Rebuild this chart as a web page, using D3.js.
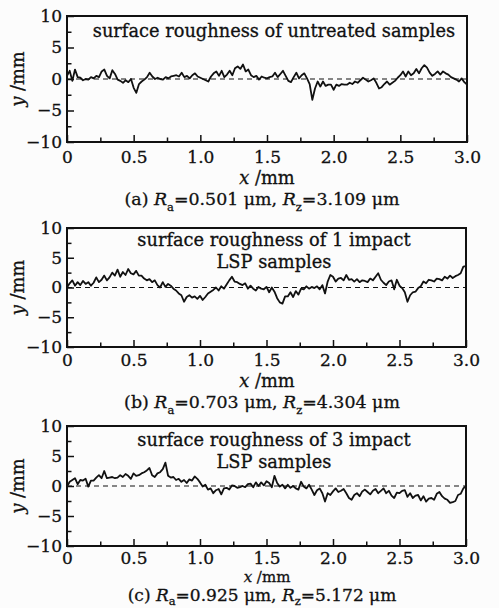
<!DOCTYPE html>
<html>
<head>
<meta charset="utf-8">
<script src="https://cdn.jsdelivr.net/npm/d3@7"></script>
<style>
  html, body { margin: 0; padding: 0; background: #fcfcfc; }
  svg { display: block; }
  text { font-family: "DejaVu Serif", serif; fill: #111; stroke: #111; stroke-width: 0.3px; }
</style>
</head>
<body>
<svg id="chart" width="499" height="608"></svg>
<script>
// ---- data ----
const xStart = 0, xStep = 0.02;   // sampling of the profiles, mm
const xTicks = [0, 0.5, 1.0, 1.5, 2.0, 2.5, 3.0];
const xTickLabels = ["0", "0.5", "1.0", "1.5", "2.0", "2.5", "3.0"];
const xMinorTicks = [0.25, 0.75, 1.25, 1.75, 2.25, 2.75];
const yTicks = [-10, -5, 0, 5, 10];
const yTickLabels = ["\u221210", "\u22125", "0", "5", "10"];
const yMinorTicks = [-7.5, -2.5, 2.5, 7.5];

const roughA = [
  0.5,1.3,-0.3,1.5,0.3,0.2,-0.2,0.0,-0.1,0.3,
  0.1,0.5,0.3,1.2,1.5,0.5,0.1,1.4,0.8,-0.1,
  -0.3,-0.6,-0.2,-0.5,0.0,-1.4,-2.2,-0.8,-0.4,-0.1,
  0.3,1.0,0.4,0.0,0.2,0.0,-0.1,0.3,0.1,0.4,
  0.5,0.6,0.4,1.0,0.3,0.5,0.1,0.6,0.9,0.4,
  0.2,0.0,-0.2,-0.4,0.4,0.9,1.2,0.5,1.3,0.3,
  0.7,1.3,0.6,1.7,2.0,1.6,2.3,1.2,1.5,0.6,
  0.3,0.5,-0.1,0.4,
  0.2,0.1,0.3,0.4,1.0,0.3,
  0.8,1.3,0.5,-0.3,-0.5,0.3,1.0,0.1,0.6,0.9,
  0.1,-0.8,-3.3,-1.5,-0.4,-1.2,-0.4,-1.1,-0.9,-0.9,
  -1.7,-0.9,-1.1,-0.8,-0.9,-0.9,-0.6,-0.8,-0.4,-0.6,
  -0.2,0.2,-0.1,-0.4,-0.2,0.1,-0.6,-1.5,-1.3,-0.8,
  -0.4,-0.9,-0.6,-0.3,0.2,0.6,1.2,0.4,1.2,0.6,
  0.9,1.6,0.9,1.7,2.2,1.8,1.0,0.5,0.8,1.2,
  0.7,1.2,0.9,0.7,0.3,0.1,-0.1,-0.4,0.1,-0.5,
  -0.9
];
const roughB = [
  0.0,0.7,1.2,0.3,0.9,0.4,1.1,0.6,0.9,0.3,
  0.8,1.7,0.9,1.3,2.0,1.2,1.7,2.5,2.0,3.0,
  1.8,2.6,2.1,3.1,2.4,2.2,2.8,2.0,2.0,1.5,
  1.2,1.4,0.9,1.2,0.4,0.0,0.9,0.1,0.6,0.3,
  -0.2,-0.5,-1.0,-1.3,-2.4,-1.6,-1.3,-1.7,-1.5,-1.9,
  -1.4,-2.1,-1.6,-1.0,-0.7,-0.4,0.0,-0.5,0.2,-0.2,
  0.5,1.2,1.8,1.0,0.9,0.6,0.4,0.7,-0.2,0.3,
  -0.2,-0.5,0.1,-0.2,
  -0.3,0.1,-0.8,0.0,-0.7,-1.8,
  -2.5,-2.7,-1.5,-1.5,-0.8,-1.6,-0.6,-1.2,-0.2,-0.3,
  0.2,-0.2,0.1,-0.1,0.2,-0.3,0.4,-1.0,1.0,2.1,
  1.8,1.0,1.5,1.6,1.2,2.1,1.3,1.4,1.0,1.4,
  0.9,1.2,1.1,0.9,1.5,1.2,1.8,2.4,1.3,0.8,
  0.4,1.0,1.2,-0.3,1.3,0.3,-0.1,-0.8,-2.4,-1.3,
  -0.8,-0.7,-0.1,0.2,1.0,0.7,1.3,1.2,1.0,1.5,
  1.4,1.2,1.8,1.5,2.0,1.6,1.9,2.1,2.4,3.5,
  3.6
];
const roughC = [
  -0.1,0.7,1.0,1.3,0.3,1.0,0.9,1.2,-0.1,0.9,
  0.9,1.4,1.8,1.3,2.5,1.3,1.4,1.5,1.3,1.4,
  1.8,1.5,2.0,1.7,1.2,2.1,1.7,1.8,2.1,2.3,
  2.6,3.0,1.8,1.5,2.1,2.3,2.8,3.9,1.7,1.4,
  1.5,1.0,1.2,0.7,1.0,0.5,1.1,0.9,1.6,1.2,
  0.6,-0.1,0.2,-0.6,-0.4,-1.2,-0.7,-0.5,-1.4,-0.4,
  -0.3,-0.6,0.1,0.0,-0.3,-0.2,0.0,-0.2,0.3,0.4,
  -0.2,0.6,0.0,0.6,
  0.1,0.8,0.5,-0.2,1.7,0.5,
  -0.1,0.2,-0.4,0.2,-0.3,0.0,-0.4,-0.6,0.7,-0.1,
  -0.4,0.2,-0.6,-1.5,-0.7,-0.4,-1.2,-2.6,-1.2,-1.5,
  -0.9,-0.4,-1.0,-0.8,-0.5,-1.2,-2.0,-2.3,-1.5,-1.2,
  -1.7,-0.9,-0.6,-1.0,-1.4,-0.8,-0.5,-1.2,-0.8,-0.4,
  -1.2,-0.8,-1.6,-2.0,-1.1,-1.2,-0.8,-0.7,-1.8,-1.2,
  -2.0,-1.6,-1.5,-2.4,-1.7,-2.6,-2.1,-2.0,-2.3,-1.3,
  -1.0,-1.7,-2.1,-2.3,-2.8,-2.7,-2.5,-1.5,-1.3,-0.4,
  0.0
];

const titles = [
  ["surface roughness of untreated samples"],
  ["surface roughness of 1 impact", "LSP samples"],
  ["surface roughness of 3 impact", "LSP samples"]
];
const captionTags = ["(a)", "(b)", "(c)"];
const raValues = ["0.501", "0.703", "0.925"];
const rzValues = ["3.109", "4.304", "5.172"];
const seriesList = [roughA, roughB, roughC];

// ---- layout ----
const panels = [
  { left: 67, right: 467, top: 16, bottom: 142, titleY: [37], tickY: 163, xlabY: 184, capY: 205, sub: 6, xlFs: "17.8px", capFs: "17.4px" },
  { left: 67, right: 466, top: 228, bottom: 347, titleY: [246, 268], tickY: 366, xlabY: 387, capY: 408, sub: 6, xlFs: "17.8px", capFs: "17.4px" },
  { left: 67, right: 466, top: 426, bottom: 546, titleY: [446, 468], tickY: 564, xlabY: 582, capY: 601, sub: 4, xlFs: "15px", capFs: "17px" }
];
const tickFs = "17px", textFs = "17.8px";

const svg = d3.select("#chart");

panels.forEach((p, i) => {
  const data = seriesList[i].map((v, k) => ({ x: xStart + k * xStep, y: v }));
  const x = d3.scaleLinear().domain([0, 3]).range([p.left, p.right]);
  const y = d3.scaleLinear().domain([-10, 10]).range([p.bottom, p.top]);
  const g = svg.append("g");

  // dashed zero line
  g.append("line")
    .attr("x1", x(0)).attr("x2", x(3))
    .attr("y1", y(0)).attr("y2", y(0))
    .attr("stroke", "#111").attr("stroke-width", 1.1)
    .attr("stroke-dasharray", "5,4");

  // profile
  const line = d3.line().x(d => x(d.x)).y(d => y(d.y));
  g.append("path").datum(data)
    .attr("d", line)
    .attr("fill", "none").attr("stroke", "#111")
    .attr("stroke-width", 1.8).attr("stroke-linejoin", "round");

  // axes (inward ticks)
  const xAxis = d3.axisBottom(x).tickValues(xTicks)
    .tickFormat((d, k) => xTickLabels[k]).tickSize(-7).tickPadding(0);
  const gx = g.append("g").attr("transform", `translate(0,${p.bottom})`).call(xAxis);
  gx.select(".domain").remove();
  gx.selectAll(".tick line").attr("stroke", "#111").attr("stroke-width", 1.5);
  gx.selectAll(".tick text").attr("y", p.tickY - p.bottom).attr("dy", null)
    .style("font-family", '"DejaVu Serif", serif').style("font-size", tickFs).attr("fill", "#111");

  const gxm = g.append("g").attr("transform", `translate(0,${p.bottom})`)
    .call(d3.axisBottom(x).tickValues(xMinorTicks).tickFormat("").tickSize(-4.5));
  gxm.select(".domain").remove();
  gxm.selectAll(".tick line").attr("stroke", "#111").attr("stroke-width", 1.5);

  const yAxis = d3.axisLeft(y).tickValues(yTicks)
    .tickFormat((d, k) => yTickLabels[k]).tickSize(-7).tickPadding(5);
  const gy = g.append("g").attr("transform", `translate(${p.left},0)`).call(yAxis);
  gy.select(".domain").remove();
  gy.selectAll(".tick line").attr("stroke", "#111").attr("stroke-width", 1.5);
  gy.selectAll(".tick text").attr("x", -5)
    .style("font-family", '"DejaVu Serif", serif').style("font-size", tickFs).attr("fill", "#111");

  const gym = g.append("g").attr("transform", `translate(${p.left},0)`)
    .call(d3.axisLeft(y).tickValues(yMinorTicks).tickFormat("").tickSize(-4.5));
  gym.select(".domain").remove();
  gym.selectAll(".tick line").attr("stroke", "#111").attr("stroke-width", 1.5);

  // frame
  g.append("rect")
    .attr("x", p.left).attr("y", p.top)
    .attr("width", p.right - p.left).attr("height", p.bottom - p.top)
    .attr("fill", "none").attr("stroke", "#111").attr("stroke-width", 2);

  // title inside
  titles[i].forEach((t, k) => {
    g.append("text").attr("x", 274).attr("y", p.titleY[k])
      .attr("text-anchor", "middle").style("font-size", textFs).text(t);
  });

  // y label
  const yl = g.append("text")
    .attr("transform", `translate(24,${(p.top + p.bottom) / 2}) rotate(-90)`)
    .attr("text-anchor", "middle").style("font-size", textFs);
  yl.append("tspan").style("font-style", "italic").text("y");
  yl.append("tspan").text(" /mm");

  // x label
  const xl = g.append("text").attr("x", 267).attr("y", p.xlabY)
    .attr("text-anchor", "middle").style("font-size", p.xlFs);
  xl.append("tspan").style("font-style", "italic").text("x");
  xl.append("tspan").text(" /mm");

  // caption
  const cap = g.append("text").attr("x", 262).attr("y", p.capY)
    .attr("text-anchor", "middle").style("font-size", p.capFs);
  cap.append("tspan").text(captionTags[i] + " ");
  cap.append("tspan").style("font-style", "italic").text("R");
  cap.append("tspan").attr("dy", p.sub).style("font-size", "11.5px").text("a");
  cap.append("tspan").attr("dy", -p.sub).text("=" + raValues[i] + " \u03bcm, ");
  cap.append("tspan").style("font-style", "italic").text("R");
  cap.append("tspan").attr("dy", p.sub).style("font-size", "11.5px").text("z");
  cap.append("tspan").attr("dy", -p.sub).text("=" + rzValues[i] + " \u03bcm");
});
</script>
</body>
</html>
